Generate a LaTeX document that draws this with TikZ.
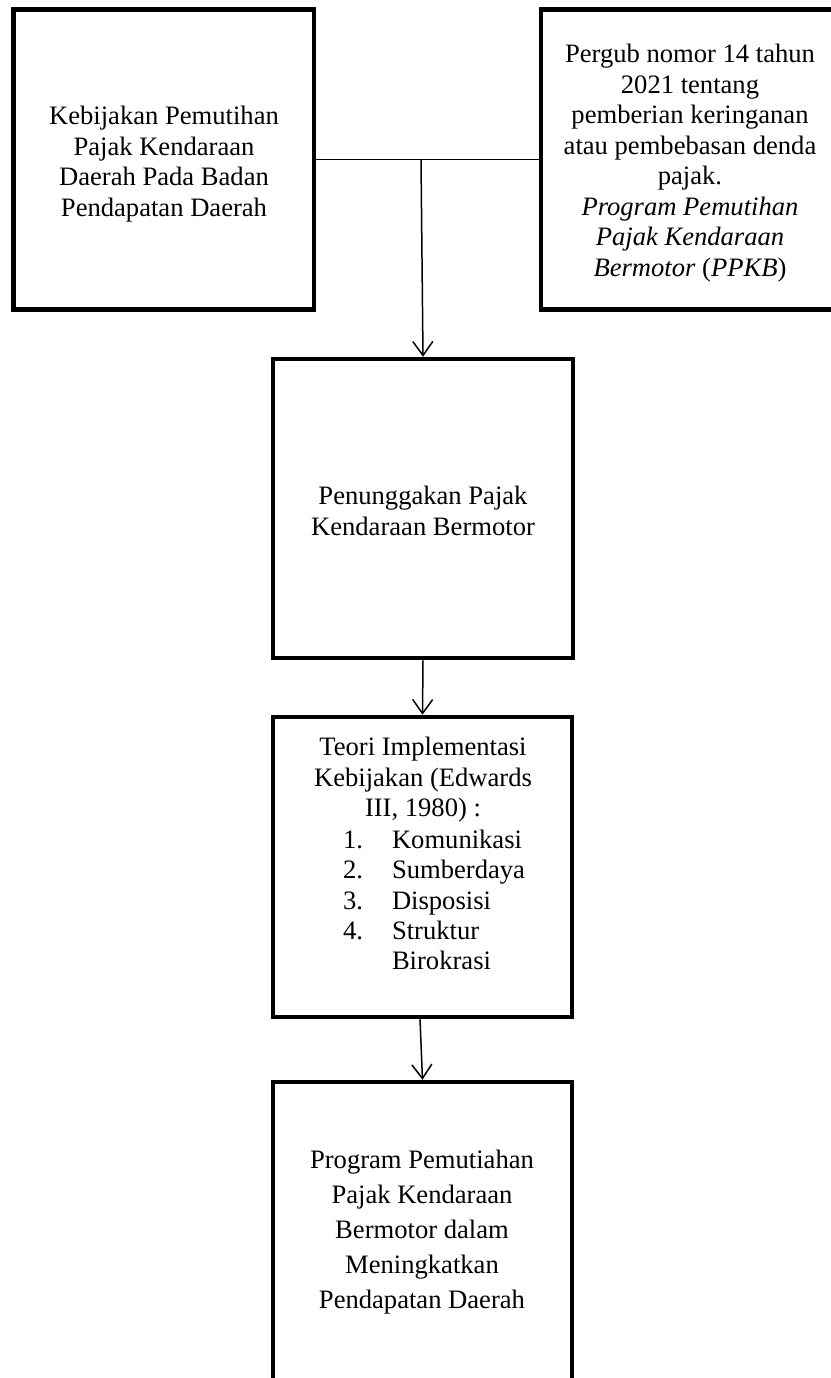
\documentclass[tikz,border=0pt]{standalone}
\usepackage{fontspec}
\setmainfont{Liberation Serif}
\usetikzlibrary{arrows.meta,calc}
\tikzset{
  box/.style={draw=black, line width=4.5pt, rectangle, inner sep=0pt, outer sep=2.25pt},
  txt/.style={inner sep=0pt, outer sep=0pt, align=center, font=\fontsize{26.6pt}{30.5pt}\selectfont},
  txtwide/.style={inner sep=0pt, outer sep=0pt, align=center, font=\fontsize{26.6pt}{35pt}\selectfont},
  txtleft/.style={inner sep=0pt, outer sep=0pt, align=left, font=\fontsize{26.6pt}{30.3pt}\selectfont},
  plainline/.style={draw=black, line width=1.5pt},
  arr/.style={draw=black, line width=1.5pt, -{Straight Barb[length=14pt,width=20pt,line width=1.5pt]}}
}
\begin{document}
\begin{tikzpicture}[x=1pt,y=-1pt]
\useasboundingbox (0,0) rectangle (830,1378);
% boxes
\node[box, minimum width=300.5pt, minimum height=300pt] (L) at (163.75,159.5) {};
\node[box, minimum width=298pt, minimum height=300pt] (R) at (690,159.5) {};
\node[box, minimum width=300pt, minimum height=299pt] (B2) at (423,508.5) {};
\node[box, minimum width=299pt, minimum height=300pt] (B3) at (422.5,867) {};
\node[box, minimum width=299pt, minimum height=299pt] (B4) at (422.5,1231.5) {};
% texts
\node[txt] (Lt) at (164,164) {Kebijakan Pemutihan\\Pajak Kendaraan\\Daerah Pada Badan\\Pendapatan Daerah};
\node[txt] (Rt) at (690,163) {Pergub nomor 14 tahun\\2021 tentang\\pemberian keringanan\\atau pembebasan denda\\pajak.\\\textit{Program Pemutihan}\\\textit{Pajak Kendaraan}\\\textit{Bermotor} (\textit{PPKB})};
\node[txt] (B2t) at (423,511) {Penunggakan Pajak\\Kendaraan Bermotor};
\node[txt] (B3h) at (423,780) {Teori Implementasi\\Kebijakan (Edwards\\III, 1980) :};
\node[txtleft, anchor=west] (B3l) at (343,900) {\makebox[49pt][l]{1.}Komunikasi\\\makebox[49pt][l]{2.}Sumberdaya\\\makebox[49pt][l]{3.}Disposisi\\\makebox[49pt][l]{4.}Struktur\\\hspace*{49pt}Birokrasi};
\node[txtwide] (B4t) at (422,1232) {Program Pemutiahan\\Pajak Kendaraan\\Bermotor dalam\\Meningkatkan\\Pendapatan Daerah};
% connectors
\coordinate (J) at (421,159.5);
\draw[plainline] (L.east) -- (R.west);
\draw[arr] (J) -- (B2.north);
\draw[arr] (B2.south) -- (B3.north);
\draw[arr] ([xshift=-2.5pt]B3.south) -- (B4.north);
\end{tikzpicture}
\end{document}
